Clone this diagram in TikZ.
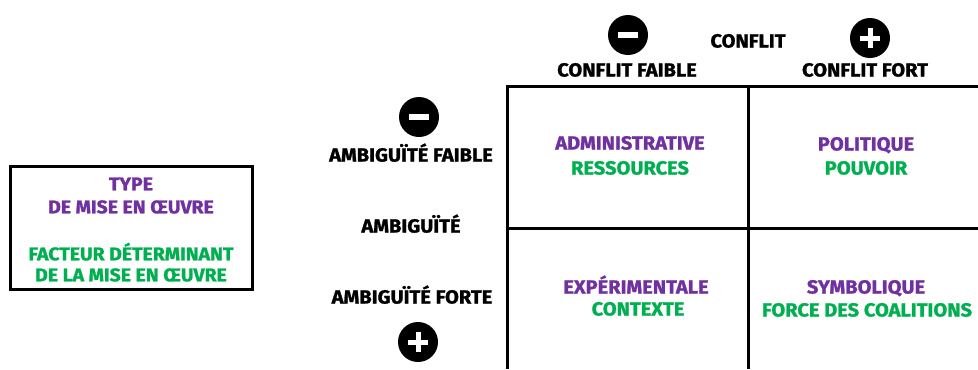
\documentclass[tikz,border=0pt]{standalone}
\usepackage{fontspec}
\setmainfont{Fira Sans}[BoldFeatures={FakeStretch=1.06, FakeBold=1.3}]
\definecolor{vio}{HTML}{7030A0}
\definecolor{gre}{HTML}{00B050}
\begin{document}
\begin{tikzpicture}[x=1bp,y=-1bp,
  lbl/.style={font=\fontsize{19}{21}\selectfont\bfseries, inner sep=0pt, text height=13bp, text depth=0pt, anchor=center},
  typ/.style={lbl, text=vio},
  fac/.style={lbl, text=gre},
  small/.style={font=\fontsize{18.4}{20}\selectfont\bfseries, text height=12.6bp},
  gridline/.style={line width=3bp, black},
  signbase/.style={circle, fill=black, minimum size=40bp, inner sep=0pt},
  signminus/.style={signbase, path picture={
     \draw[white, line width=6bp] ([xshift=-10bp]path picture bounding box.center) -- ([xshift=10bp]path picture bounding box.center);}},
  signplus/.style={signbase, path picture={
     \draw[white, line width=5bp] ([xshift=-10bp]path picture bounding box.center) -- ([xshift=10bp]path picture bounding box.center);
     \draw[white, line width=5bp] ([yshift=-10bp]path picture bounding box.center) -- ([yshift=10bp]path picture bounding box.center);}}
]
\useasboundingbox (0,0) rectangle (978,369);
\fill[white] (0,0) rectangle (978,369);

% grid
\coordinate (tl) at (507,86);
\coordinate (tr) at (978,86);
\coordinate (tm) at (748,86);
\coordinate (bm) at (748,369);
\coordinate (bl) at (507,369);
\coordinate (ml) at (507,228);
\coordinate (mr) at (978,228);
\draw[gridline] (tr) -- (tl) -- (bl);
\draw[gridline] (tm) -- (bm);
\draw[gridline] (ml) -- (mr);

% header
\node[signminus] (cmin) at (628,35) {};
\node[lbl] (cfaible) at (627,70) {CONFLIT FAIBLE};
\node[lbl] (conflit) at (748,41) {CONFLIT};
\node[signplus] (cplus) at (870,38) {};
\node[lbl] (cfort) at (865,70) {CONFLIT FORT};

% left axis
\node[signminus] (amin) at (419,117) {};
\node[lbl] (afaible) at (411,155) {AMBIGUÏTÉ FAIBLE};
\node[lbl] (ambig) at (411,226) {AMBIGUÏTÉ};
\node[lbl] (aforte) at (412,297) {AMBIGUÏTÉ FORTE};
\node[signplus] (aplus) at (418,342) {};

% legend box
\node[draw=black, line width=3bp, minimum width=241bp, minimum height=123bp, inner sep=0pt] (legend) at (131.5,227.5) {};
\node[typ, small] (lg1) at (131,184) {TYPE};
\node[typ, small] (lg2) at (131,207) {DE MISE EN ŒUVRE};
\node[fac, small] (lg3) at (131,254) {FACTEUR DÉTERMINANT};
\node[fac, small] (lg4) at (131,275) {DE LA MISE EN ŒUVRE};

% cells
\node[typ] (adm) at (630,143) {ADMINISTRATIVE};
\node[fac] (res) at (630,168) {RESSOURCES};
\node[typ] (pol) at (866,144) {POLITIQUE};
\node[fac] (pou) at (866,168) {POUVOIR};
\node[typ] (exp) at (636,287) {EXPÉRIMENTALE};
\node[fac] (ctx) at (638,309) {CONTEXTE};
\node[typ] (sym) at (866,287) {SYMBOLIQUE};
\node[fac] (coa) at (867,310) {FORCE DES COALITIONS};
\end{tikzpicture}
\end{document}
